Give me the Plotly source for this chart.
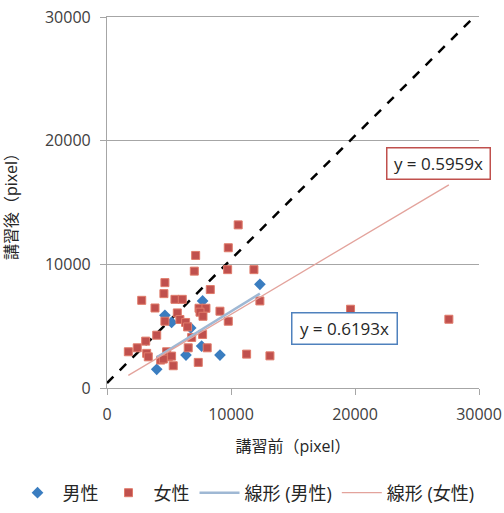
import plotly.graph_objects as go

# ---- data ----
male_x = [12330, 7710, 4670, 5210, 6750, 7630, 6370, 9110, 4010]
male_y = [8380, 7040, 5880, 5300, 4860, 3390, 2660, 2660, 1510]

female_x = [10580, 9780, 7150, 7040, 9730, 11850, 4670, 4590, 2800, 5480, 6070, 8330,
            3870, 12330, 7420, 7980, 7500, 7740, 9110, 5670, 4670, 5880, 6340, 6500,
            9780, 7710, 6830, 4010, 3120, 2440, 1720, 3200, 3330, 4810, 4940, 5210,
            6550, 8080, 4330, 4540, 5340, 7360, 11260, 13140, 19640, 27570]
female_y = [13190, 11340, 10720, 9450, 9570, 9570, 8520, 7630, 7090, 7170, 7170, 7960,
            6470, 7040, 6450, 6450, 6130, 5800, 6210, 6070, 5400, 5540, 5300, 4940,
            5400, 4330, 4090, 4270, 3790, 3250, 2930, 2800, 2520, 2930, 2520, 2580,
            3250, 3250, 2260, 2340, 1800, 2070, 2740, 2600, 6370, 5560]

male_slope = 0.6193
female_slope = 0.5959

ref_x = [0, 29600]
ref_y = [400, 30000]

tick_vals = [0, 10000, 20000, 30000]
tick_text = ["0", "10000", "20000", "30000"]

male_label = "男性"
female_label = "女性"
male_trend_label = "線形 (男性)"
female_trend_label = "線形 (女性)"
x_title = "講習前（pixel）"
y_title = "講習後（pixel）"

# ---- figure ----
BLUE = "#3a7dc0"
RED = "#c0504d"
FONT = "Open Sans, Noto Sans CJK JP, sans-serif"

fig = go.Figure()

fig.add_trace(go.Scatter(
    x=ref_x, y=ref_y, mode="lines", showlegend=False,
    line=dict(color="black", width=2.5, dash="dash"), hoverinfo="skip"))

fig.add_trace(go.Scatter(
    x=male_x, y=male_y, mode="markers", name=male_label,
    marker=dict(symbol="diamond", size=9, color=BLUE)))

fig.add_trace(go.Scatter(
    x=female_x, y=female_y, mode="markers", name=female_label,
    marker=dict(symbol="square", size=8, color=RED,
                line=dict(color="#e07b6a", width=1))))

mx = [min(male_x), max(male_x)]
fig.add_trace(go.Scatter(
    x=mx, y=[male_slope * v for v in mx], mode="lines", name=male_trend_label,
    line=dict(color="#9fb8d4", width=2.5)))

fx = [min(female_x), max(female_x)]
fig.add_trace(go.Scatter(
    x=fx, y=[female_slope * v for v in fx], mode="lines", name=female_trend_label,
    line=dict(color="#e3a39c", width=1.3)))

fig.add_annotation(x=26700, y=18150, xref="x", yref="y", showarrow=False,
                   text=f"y = {female_slope}x", font=dict(size=17, color="#262626", family=FONT),
                   bgcolor="white", bordercolor=RED, borderwidth=1.5, borderpad=3,
                   width=96, height=24)
fig.add_annotation(x=19190, y=4840, xref="x", yref="y", showarrow=False,
                   text=f"y = {male_slope}x", font=dict(size=17, color="#262626", family=FONT),
                   bgcolor="white", bordercolor="#4f81bd", borderwidth=1.5, borderpad=3,
                   width=98, height=24)

fig.update_layout(
    width=504, height=513,
    margin=dict(l=107, r=25, t=17, b=125, autoexpand=False),
    paper_bgcolor="white", plot_bgcolor="white",
    font=dict(family=FONT, color="#404040", size=16),
    legend=dict(orientation="h", x=-0.254, xanchor="left", xref="paper",
                y=-0.283, yanchor="middle", yref="paper",
                font=dict(size=18, color="#262626"), itemwidth=40,
                tracegroupgap=0),
    showlegend=True,
)

fig.update_xaxes(
    range=[0, 30000], tickvals=tick_vals, ticktext=tick_text, automargin=False,
    showgrid=False, zeroline=False,
    showline=True, mirror=True, linecolor="#a6a6a6", linewidth=1.2,
    ticks="outside", ticklen=6, tickcolor="#a6a6a6", ticklabelstandoff=6,
    tickfont=dict(size=16, color="#404040"),
    title=dict(text=x_title, font=dict(size=16, color="#262626"), standoff=16),
)
fig.update_yaxes(
    range=[0, 30000], tickvals=tick_vals, ticktext=tick_text, automargin=False,
    showgrid=True, gridcolor="#a6a6a6", gridwidth=1.2, zeroline=False,
    showline=True, linecolor="#a6a6a6", linewidth=1.2,
    ticks="outside", ticklen=6, tickcolor="#a6a6a6", ticklabelstandoff=6,
    tickfont=dict(size=16, color="#404040"),
    title=dict(text=y_title, font=dict(size=16, color="#262626"), standoff=29),
)

fig.write_html("out.html", config={"displayModeBar": False},
               post_script="document.body.style.margin='0';document.body.style.overflow='hidden';")
